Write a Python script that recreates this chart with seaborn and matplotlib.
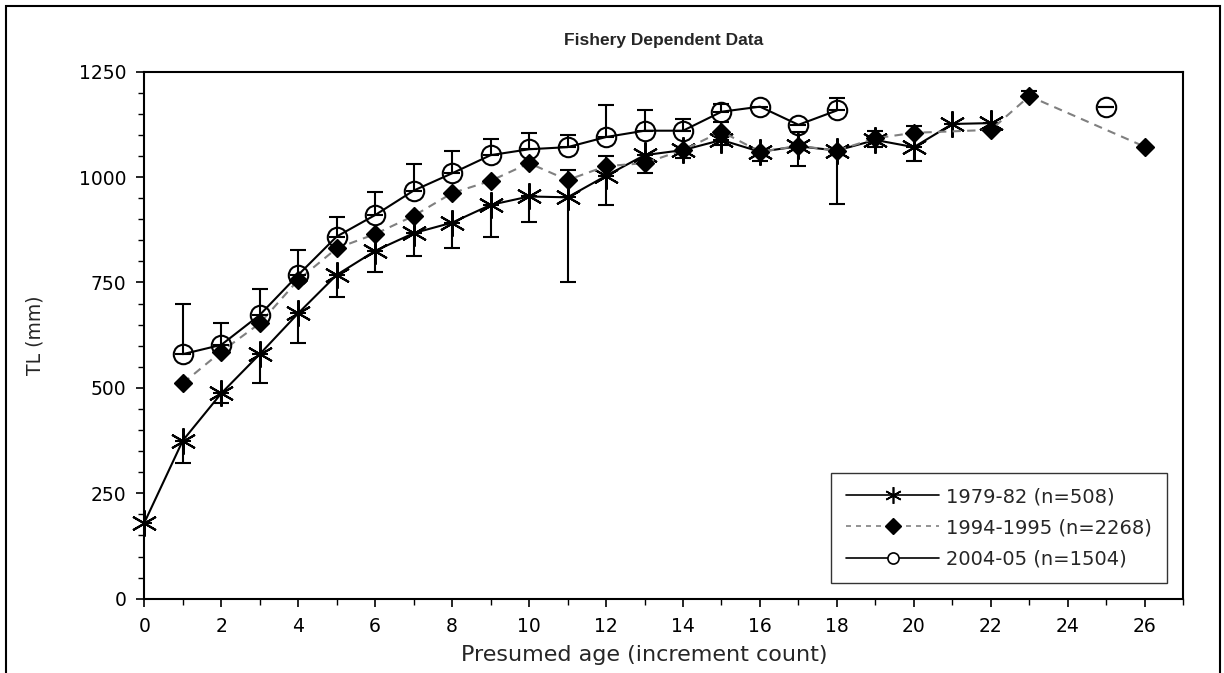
import numpy as np
import matplotlib
matplotlib.use("Agg")
import matplotlib.pyplot as plt
from matplotlib.lines import Line2D
from matplotlib.patches import Rectangle
from matplotlib.ticker import MultipleLocator
import seaborn as sns

# --- data ---
labels = ["1979-82 (n=508)", "1994-1995 (n=2268)", "2004-05 (n=1504)"]

ages_a = [0, 1, 2, 3, 4, 5, 6, 7, 8, 9, 10, 11, 12, 13, 14, 15, 16, 17, 18, 19, 20, 21, 22]
tl_a = [180, 375, 487, 580, 677, 768, 825, 867, 892, 934, 954, 952, 1003, 1052,
        1064, 1088, 1060, 1073, 1063, 1088, 1071, 1126, 1128]
# 1979-82 bars drawn below the point only
err_a = [np.nan, 54, 24, 69, 71, 52, 51, 54, 61, 77, 60, 202, 69, 42,
         19, 12, 23, 47, 127, 17, 34, np.nan, np.nan]

ages_b = [1, 2, 3, 4, 5, 6, 7, 8, 9, 10, 11, 12, 13, 14, 15, 16, 17, 18, 19, 20, 22, 23, 26]
tl_b = [511, 586, 653, 756, 831, 865, 908, 962, 991, 1033, 993, 1026, 1033, 1064,
        1108, 1060, 1074, 1063, 1092, 1105, 1112, 1192, 1072]
# 1994-1995 bars drawn above the point only
err_b = [np.nan, np.nan, np.nan, np.nan, np.nan, np.nan, np.nan, np.nan, np.nan, np.nan,
         24, 24, np.nan, np.nan, 22, np.nan, 34, np.nan, 18, 15, np.nan, 13, np.nan]

ages_c = [1, 2, 3, 4, 5, 6, 7, 8, 9, 10, 11, 12, 13, 14, 15, 16, 17, 18, 25]
tl_c = [580, 602, 673, 768, 859, 910, 968, 1009, 1052, 1066, 1071, 1095, 1110,
        1110, 1155, 1167, 1124, 1158, 1167]
# 2004-05 bars drawn above the point only
err_c = [119, 53, 61, 59, 46, 55, 63, 54, 38, 39, 29, 77, 50, 28, 18,
         np.nan, np.nan, 29, 0]

sns.set_style("ticks")
plt.rcParams['font.family'] = ['DejaVu Sans']

fig = plt.figure(figsize=(12.24, 6.73), dpi=100)
ax = fig.add_axes([0.1179, 0.1104, 0.8488, 0.7831])

ast = (6, 2, 0)
bar_kw = dict(fmt="none", ecolor="black", elinewidth=1.5, capsize=5.8, capthick=1.5)

# error bars (one-sided)
ax.errorbar(ages_a, tl_a, yerr=[err_a, [0] * len(ages_a)], zorder=2, **bar_kw)
ax.errorbar(ages_b, tl_b, yerr=[[0] * len(ages_b), err_b], zorder=2, **bar_kw)
ax.errorbar(ages_c, tl_c, yerr=[[0] * len(ages_c), err_c], zorder=6, **bar_kw)

# lines + markers
sns.lineplot(x=ages_a, y=tl_a, ax=ax, color="black", linewidth=1.5, marker=ast,
             markersize=19, markeredgecolor="black", markeredgewidth=1.5, zorder=3,
             clip_on=False)
sns.lineplot(x=ages_b, y=tl_b, ax=ax, color="#808080", linewidth=1.5, dashes=(4, 3),
             zorder=3)
ax.plot(ages_b, tl_b, ls="none", marker="D", markersize=9, color="black",
        markeredgecolor="black", zorder=4)
n_joined = 18  # the 2004-05 line stops at age 18; age 25 stands alone
sns.lineplot(x=ages_c[:n_joined], y=tl_c[:n_joined], ax=ax, color="black", linewidth=1.5,
             zorder=5)
ax.plot(ages_c, tl_c, ls="none", marker="o", markersize=14, markerfacecolor="none",
        markeredgecolor="black", markeredgewidth=1.5, zorder=5)

ax.set_xlim(0, 27)
ax.set_ylim(0, 1250)
ax.xaxis.set_major_locator(MultipleLocator(2))
ax.xaxis.set_minor_locator(MultipleLocator(1))
ax.yaxis.set_major_locator(MultipleLocator(250))
ax.yaxis.set_minor_locator(MultipleLocator(50))
ax.tick_params(which="major", length=6, width=1.2, labelsize=13.5, color="black",
               labelcolor="black", direction="out", pad=7)
ax.tick_params(which="minor", length=4, width=1.0, color="black", direction="out")
for s in ax.spines.values():
    s.set_visible(True)
    s.set_linewidth(1.5)
    s.set_color("black")

ax.set_xlabel("Presumed age (increment count)", fontsize=16)
ax.xaxis.set_label_coords(13 / 27, (598.7 - 645) / 527)
ax.set_ylabel("TL (mm)", fontsize=13.5)
ax.yaxis.set_label_coords((44 - 144.3) / 1039, 0.5)

fig.text(0.542, 1 - 40 / 673, "Fishery Dependent Data", ha="center", va="center",
         fontsize=12.5, fontweight="bold", family="Liberation Sans")

handles = [
    Line2D([], [], color="black", lw=1.2, marker=ast, markersize=12,
           markeredgecolor="black", markeredgewidth=1.2),
    Line2D([], [], color="#808080", lw=1.2, dashes=(3, 3), marker="D", markersize=8,
           markerfacecolor="black", markeredgecolor="black"),
    Line2D([], [], color="black", lw=1.2, marker="o", markersize=8,
           markerfacecolor="white", markeredgecolor="black", markeredgewidth=1.2),
]
leg = ax.legend(handles, labels, loc="lower right", bbox_to_anchor=(0.984, 0.030),
                fontsize=14, frameon=True, fancybox=False, shadow=False,
                handlelength=4.8, handletextpad=0.35, labelspacing=0.62,
                borderpad=0.75, borderaxespad=0)
leg.get_frame().set_edgecolor("black")
leg.get_frame().set_linewidth(1.0)

# outer frame round the whole figure
fig.add_artist(Rectangle((6 / 1224, -0.05), 1214 / 1224, 0.05 + 1 - 6 / 673,
                         transform=fig.transFigure, fill=False, lw=1.5,
                         edgecolor="black"))

fig.savefig("out.png", dpi=100, facecolor="white")
